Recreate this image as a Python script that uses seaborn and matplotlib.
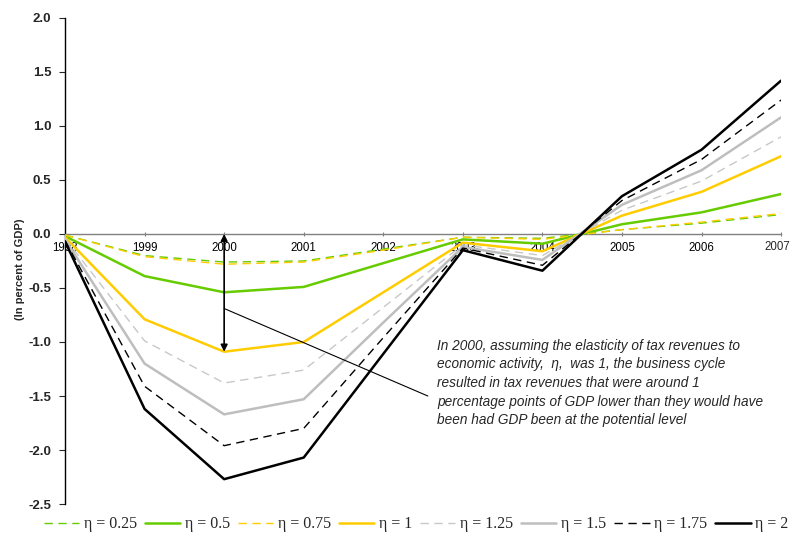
import matplotlib
matplotlib.use("Agg")
import matplotlib.pyplot as plt
import seaborn as sns
import pandas as pd

years = [1998, 1999, 2000, 2001, 2002, 2003, 2004, 2005, 2006, 2007]
eta_labels = ["η = 0.25", "η = 0.5", "η = 0.75", "η = 1", "η = 1.25", "η = 1.5", "η = 1.75", "η = 2"]

eta_025 = [-0.01, -0.20, -0.26, -0.25, -0.14, -0.03, -0.04, 0.04, 0.10, 0.18]
eta_050 = [-0.02, -0.39, -0.54, -0.49, -0.27, -0.05, -0.09, 0.09, 0.20, 0.37]
eta_075 = [-0.01, -0.21, -0.28, -0.26, -0.15, -0.03, -0.05, 0.04, 0.11, 0.19]
eta_100 = [-0.03, -0.79, -1.09, -1.00, -0.54, -0.08, -0.16, 0.17, 0.39, 0.72]
eta_125 = [-0.04, -0.99, -1.38, -1.26, -0.68, -0.10, -0.20, 0.22, 0.49, 0.90]
eta_150 = [-0.05, -1.20, -1.67, -1.53, -0.82, -0.12, -0.24, 0.27, 0.59, 1.08]
eta_175 = [-0.06, -1.41, -1.96, -1.80, -0.96, -0.13, -0.29, 0.31, 0.69, 1.24]
eta_200 = [-0.07, -1.62, -2.27, -2.07, -1.11, -0.15, -0.34, 0.35, 0.78, 1.42]

series = [eta_025, eta_050, eta_075, eta_100, eta_125, eta_150, eta_175, eta_200]

colors = ["#66CC00", "#66CC00", "#FFCC00", "#FFCC00", "#C8C8C8", "#BEBEBE", "#000000", "#000000"]
dashed = [True, False, True, False, True, False, True, False]
widths = [1.0, 1.8, 1.0, 1.8, 1.0, 1.8, 1.0, 1.8]

note = ("In 2000, assuming the elasticity of tax revenues to\n"
        "economic activity,  η,  was 1, the business cycle\n"
        "resulted in tax revenues that were around 1\n"
        "percentage points of GDP lower than they would have\n"
        "been had GDP been at the potential level")

sns.set_style("white")
plt.rcParams["font.family"] = ["Liberation Sans", "DejaVu Sans"]

fig = plt.figure(figsize=(7.93, 5.44), dpi=100)
ax = fig.add_axes([0.082, 0.0735, 0.903, 0.8935])

for vals, lab, c, d, w in zip(series, eta_labels, colors, dashed, widths):
    df = pd.DataFrame({"year": years, "value": vals})
    kw = dict(dashes=(6, 4)) if d else {}
    sns.lineplot(data=df, x="year", y="value", ax=ax, color=c, linewidth=w,
                 label=lab, zorder=3, **kw)

ax.set_xlim(1998, 2007)
ax.set_ylim(-2.5, 2.0)
yt = [2.0, 1.5, 1.0, 0.5, 0.0, -0.5, -1.0, -1.5, -2.0, -2.5]
ax.set_yticks(yt)
ax.set_yticklabels([f"{v:.1f}" for v in yt], fontweight="bold")
ax.set_xticks(years)
# last year label is drawn separately (nudged left so it stays inside the canvas)
ax.set_xticklabels([str(y) for y in years[:-1]] + [""])
ax.set_xlabel("")
ax.set_ylabel("(In percent of GDP)", fontweight="bold", fontsize=8, labelpad=2)
ax.yaxis.label.set_y(0.484)

for s in ["top", "right"]:
    ax.spines[s].set_visible(False)
ax.spines["bottom"].set_position(("data", 0))
ax.spines["bottom"].set_color("#808080")
ax.spines["bottom"].set_linewidth(1.0)
ax.spines["left"].set_color("#000000")
ax.spines["left"].set_linewidth(1.0)
ax.tick_params(axis="y", left=True, length=4, width=0.8, direction="out", pad=6, labelsize=9.5)
ax.tick_params(axis="x", bottom=True, length=3, width=0.8, direction="inout", pad=4,
               colors="#808080", labelcolor="black", labelsize=8.3)
ax.annotate(str(years[-1]), xy=(years[-1], 0), xycoords="data",
            xytext=(-3, -5.2), textcoords="offset points", ha="center", va="top",
            fontsize=8.3, annotation_clip=False)
ax.grid(False)

# annotation
ax.annotate("", xy=(2000, eta_100[2]), xytext=(2000, 0.0),
            arrowprops=dict(arrowstyle="<|-|>", color="black", lw=1.2, mutation_scale=10,
                            shrinkA=0, shrinkB=0), zorder=4)
ax.annotate("", xy=(2000, -0.69), xytext=(2002.56, -1.50),
            arrowprops=dict(arrowstyle="-", color="black", lw=0.8, shrinkA=0, shrinkB=0),
            zorder=4)
ax.text(2002.68, -0.97, note, fontsize=9.8, fontstyle="italic", va="top", ha="left",
        linespacing=1.42)

handles, labels = ax.get_legend_handles_labels()
if ax.get_legend():
    ax.get_legend().remove()
fig.legend(handles, labels, loc="lower center", bbox_to_anchor=(0.525, -0.005), ncol=8,
           frameon=False, handlelength=2.2, columnspacing=0.5, handletextpad=0.3,
           prop={"family": "Liberation Serif", "size": 11.5})

fig.savefig("out.png", dpi=100)
